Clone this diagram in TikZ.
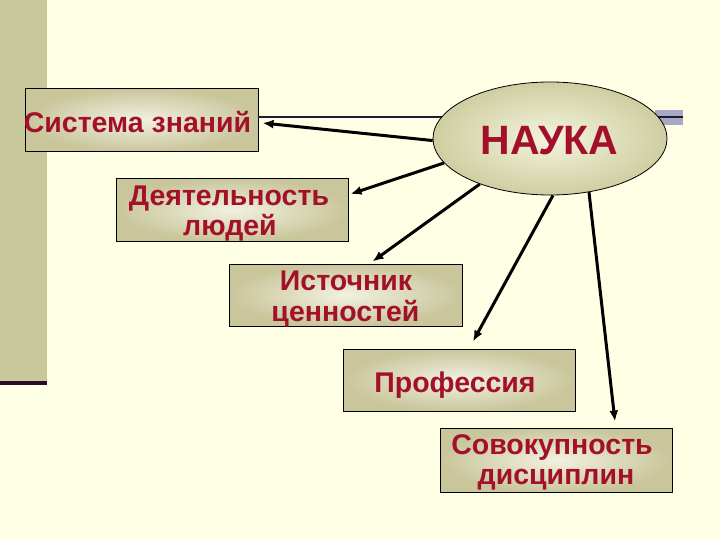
\documentclass[tikz,border=0pt]{standalone}
\usepackage{fontspec}
\setmainfont{Liberation Sans}
\usetikzlibrary{arrows.meta,shapes.geometric,calc}
\definecolor{bg}{HTML}{FFFFE6}
\definecolor{stripe}{HTML}{C8C89B}
\definecolor{darkline}{HTML}{2E0A2A}
\definecolor{lav}{HTML}{A8A8C6}
\definecolor{navy}{HTML}{1C1C38}
\definecolor{boxout}{HTML}{C9C69C}
\definecolor{boxin}{HTML}{F2F1E0}
\definecolor{ellout}{HTML}{CFCEA2}
\definecolor{ellin}{HTML}{F4F4DE}
\definecolor{txt}{HTML}{A3102A}
\tikzset{
  box/.style={draw=black, line width=1pt, rectangle, inner sep=0pt,
    inner color=boxin, outer color=boxout},
  lab/.style={anchor=base, inner sep=0pt, text=txt,
    font=\bfseries\fontsize{28.5}{31}\selectfont},
  arr/.style={line width=3pt, -{Latex[length=11pt,width=9pt]}},
}
\begin{document}
\begin{tikzpicture}[x=1pt,y=-1pt]
\useasboundingbox (0,0) rectangle (720,540);
\fill[bg] (0,0) rectangle (720,540);
\fill[stripe] (0,0) rectangle (47,382);
\fill[darkline] (0,381) rectangle (47,385);
\fill[lav] (655,110) rectangle (683,125);
\draw[navy, line width=2pt] (655,117) -- (683,117);

\node[box, minimum width=233pt, minimum height=63pt] (sys) at (141.5,120) {};
\node[box, minimum width=232pt, minimum height=62pt] (act) at (232,210) {};
\node[box, minimum width=233pt, minimum height=62pt] (src) at (345.5,295) {};
\node[box, minimum width=232pt, minimum height=62pt] (prof) at (459,380) {};
\node[box, minimum width=232pt, minimum height=64pt] (set) at (556,460) {};

\node[lab] (sysT) at (137.5,133) {Система знаний};
\node[lab] (actT1) at (229,206) {Деятельность};
\node[lab] (actT2) at (230,236) {людей};
\node[lab] (srcT1) at (346,290.5) {Источник};
\node[lab] (srcT2) at (345.5,321) {ценностей};
\node[lab] (profT) at (455,392) {Профессия};
\node[lab] (setT1) at (552,454.5) {Совокупность};
\node[lab] (setT2) at (556,484.5) {дисциплин};

\coordinate (tl) at (258,117);
\coordinate (tr) at (500,117);
\draw[navy, line width=1.2pt] (tl) -- (tr);

\node[draw=black, line width=0.8pt, ellipse, minimum width=234pt, minimum height=113pt,
  inner color=ellin, outer color=ellout] (sci) at (550,138.5) {};
\node[lab, font=\bfseries\fontsize{41}{44}\selectfont] (sciT) at (549.5,155) {НАУКА};

\draw[arr] (sci.181) -- ($(sys.east)+(4,3)$);
\draw[arr] (sci.193) -- ($(act.east)+(2,-16)$);
\draw[arr] (sci.213) -- ($(src.north)+(27,-2)$);
\draw[arr] (sci.273) -- ($(prof.north)+(14,-7)$);
\draw[arr] (sci.306) -- ($(set.north)+(59,-6)$);
\end{tikzpicture}
\end{document}
